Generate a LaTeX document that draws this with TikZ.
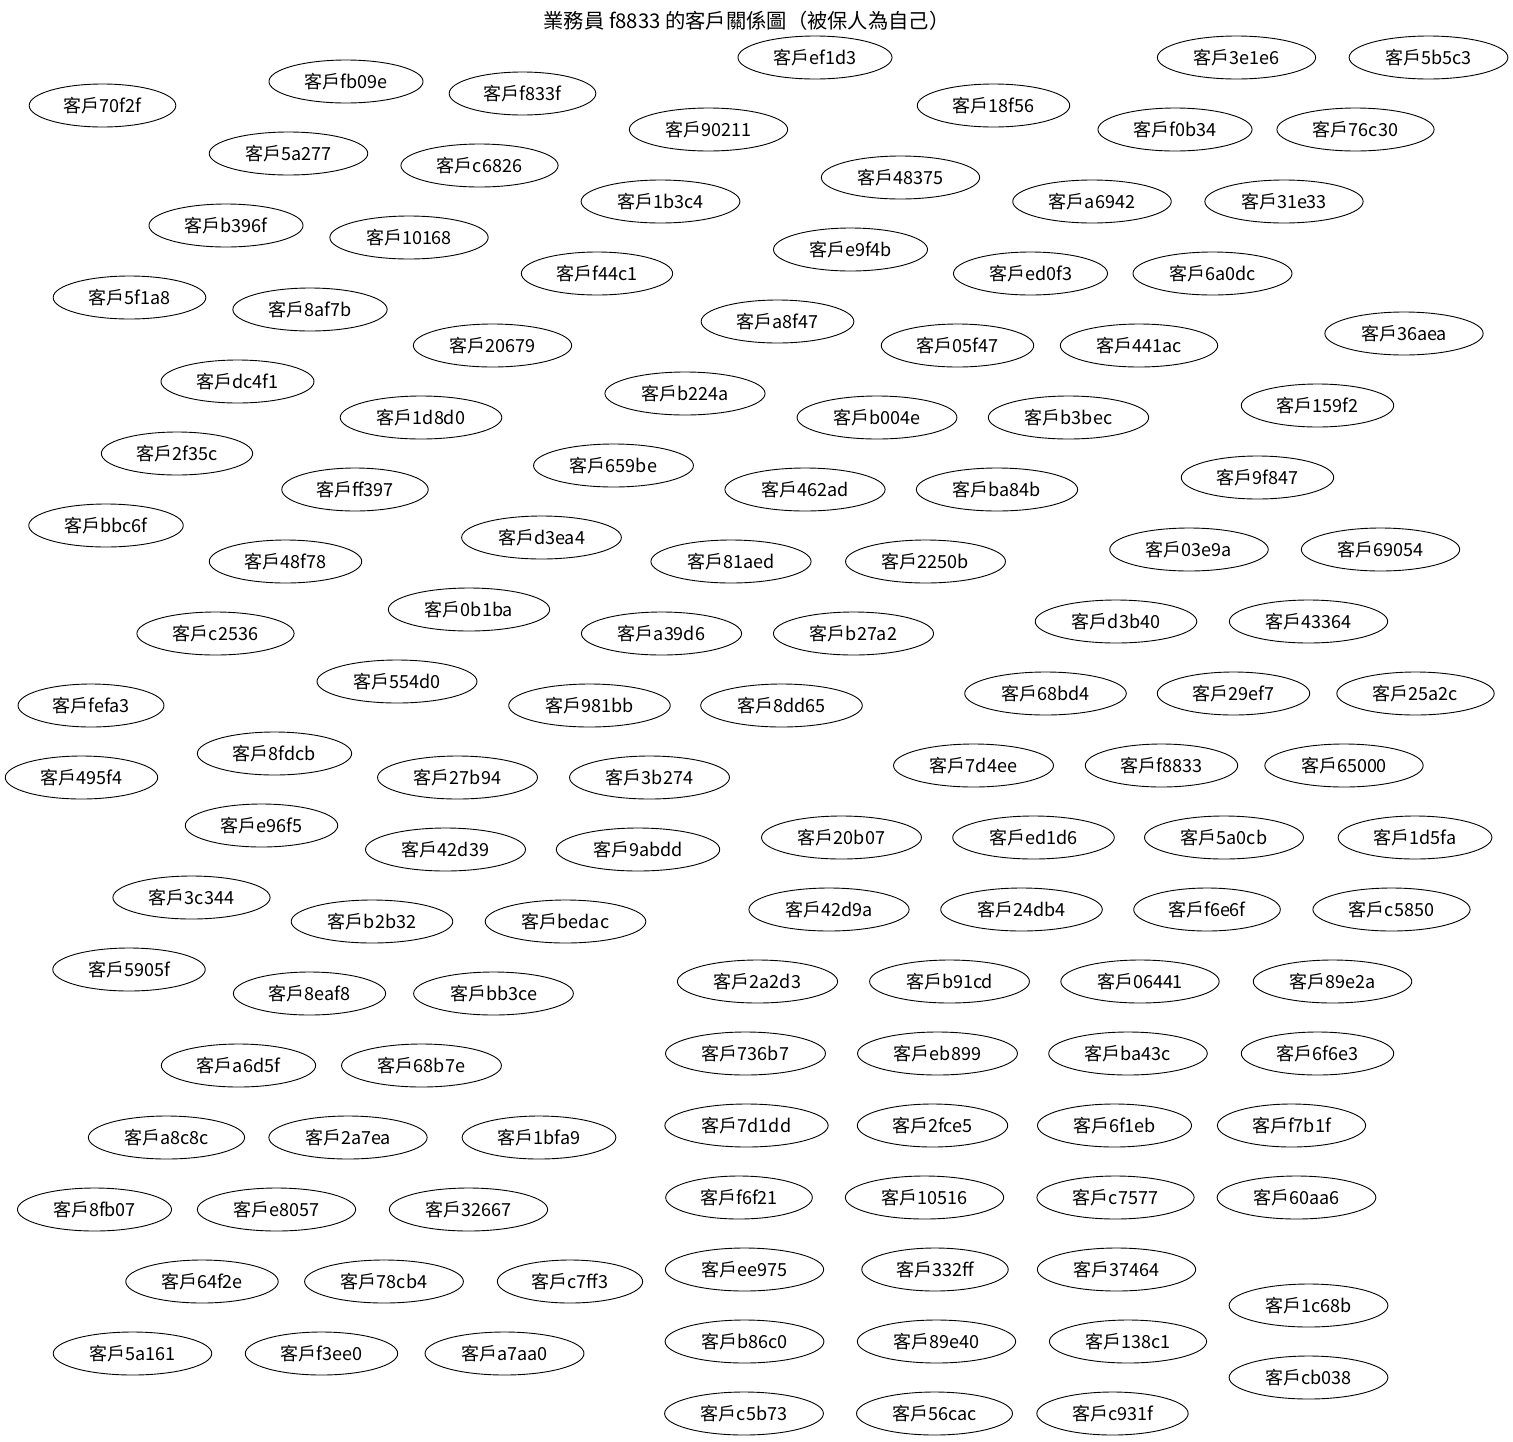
\documentclass[tikz,border=0pt]{standalone}
\usepackage{fontspec}
\setmainfont{Noto Sans CJK TC}
\usetikzlibrary{shapes.geometric}
\begin{document}
\begin{tikzpicture}[x=1pt,y=-1pt,
  cust/.style={draw, ellipse, line width=0.9pt, inner xsep=13pt, inner ysep=0pt,
    minimum height=43pt, font=\fontsize{18}{21}\selectfont},
  titlestyle/.style={inner sep=0pt, font=\fontsize{20.3}{23}\selectfont}]
\useasboundingbox (0,0) rectangle (1513,1441);
\node[titlestyle] (title) at (746.5,21) {業務員 f8833 的客戶關係圖（被保人為自己）};
\foreach \n/\x/\y in {
ef1d3/815/57.5, 3e1e6/1236.5/57.5, 5b5c3/1428.5/57.5,
fb09e/346/81.5, f833f/522.5/93.5,
70f2f/102.5/105.5, 18f56/993.5/105.5,
90211/708.5/129.5, f0b34/1175/129.5, 76c30/1355.5/129.5,
5a277/288.5/153.5, c6826/479.5/165.5, 48375/900.5/177.5,
1b3c4/660.5/201.5, a6942/1092/201.5, 31e33/1284/201.5,
b396f/226/225.5, 10168/409/237.5, e9f4b/850.5/249.5,
f44c1/597/273.5, ed0f3/1030.5/273.5, 6a0dc/1212.5/273.5,
5f1a8/129.5/297.5, 8af7b/310/309.5, a8f47/777.5/321.5, 36aea/1404/333.5,
20679/492.5/345.5, 05f47/957.5/345.5, 441ac/1139/345.5,
dc4f1/237.5/381.5, b224a/685/393.5, 159f2/1317.5/405.5,
1d8d0/421/417.5, b004e/877/417.5, b3bec/1068.5/417.5,
2f35c/177/453.5, 659be/613.5/465.5, 9f847/1257.5/477.5,
ff397/355/489.5, 462ad/805/489.5, ba84b/997/489.5,
bbc6f/106/525.5, d3ea4/541.5/537.5,
03e9a/1189/549.5, 69054/1380.5/549.5,
48f78/285.5/561.5, 81aed/731/561.5, 2250b/925.5/561.5,
0b1ba/469/609.5, d3b40/1116/621.5, 43364/1308.5/621.5,
c2536/215.5/633.5, a39d6/661.5/633.5, b27a2/853.5/633.5,
554d0/397/681.5,
68bd4/1045.5/693.5, 29ef7/1233.5/693.5, 25a2c/1415.5/693.5,
fefa3/91/705.5, 981bb/589.5/705.5, 8dd65/781.5/705.5,
8fdcb/274.5/753.5,
7d4ee/973.5/765.5, f8833/1161.5/765.5, 65000/1344/765.5,
495f4/81.5/777.5, 27b94/457.5/777.5, 3b274/649.5/777.5,
e96f5/261.5/825.5,
20b07/841.5/837.5, ed1d6/1033.5/837.5, 5a0cb/1224/837.5, 1d5fa/1415/837.5,
42d39/445.5/849.5, 9abdd/638/849.5,
3c344/191.5/897.5,
42d9a/829/909.5, 24db4/1021.5/909.5, f6e6f/1207/909.5, c5850/1391.5/909.5,
b2b32/372/921.5, bedac/565.5/921.5,
5905f/129/969.5,
2a2d3/757.5/981.5, b91cd/949.5/981.5, 06441/1140/981.5, 89e2a/1332.5/981.5,
8eaf8/309.5/993.5, bb3ce/493.5/993.5,
736b7/745.5/1053.5, eb899/937.5/1053.5, ba43c/1128/1053.5, 6f6e3/1317.5/1053.5,
a6d5f/238.5/1065.5, 68b7e/421.5/1065.5,
7d1dd/746.5/1125.5, 2fce5/932.5/1125.5, 6f1eb/1114.5/1125.5, f7b1f/1291.5/1125.5,
a8c8c/166.5/1137.5, 2a7ea/348/1137.5, 1bfa9/539/1137.5,
f6f21/739/1197.5, 10516/924.5/1197.5, c7577/1115.5/1197.5, 60aa6/1296.5/1197.5,
8fb07/94.5/1209.5, e8057/276.5/1209.5, 32667/468.5/1209.5,
ee975/744.5/1269.5, 332ff/935/1269.5, 37464/1116.5/1269.5,
64f2e/202/1281.5, 78cb4/384/1281.5, c7ff3/570/1281.5,
1c68b/1308.5/1305.5,
b86c0/744.5/1341.5, 89e40/936.5/1341.5, 138c1/1128/1341.5,
5a161/132.5/1353.5, f3ee0/321.5/1353.5, a7aa0/504.5/1353.5,
cb038/1308.5/1377.5,
c5b73/744/1413.5, 56cac/934.5/1413.5, c931f/1112.5/1413.5}
{\node[cust] (n\n) at (\x,\y) {客戶\n};}
\end{tikzpicture}
\end{document}
